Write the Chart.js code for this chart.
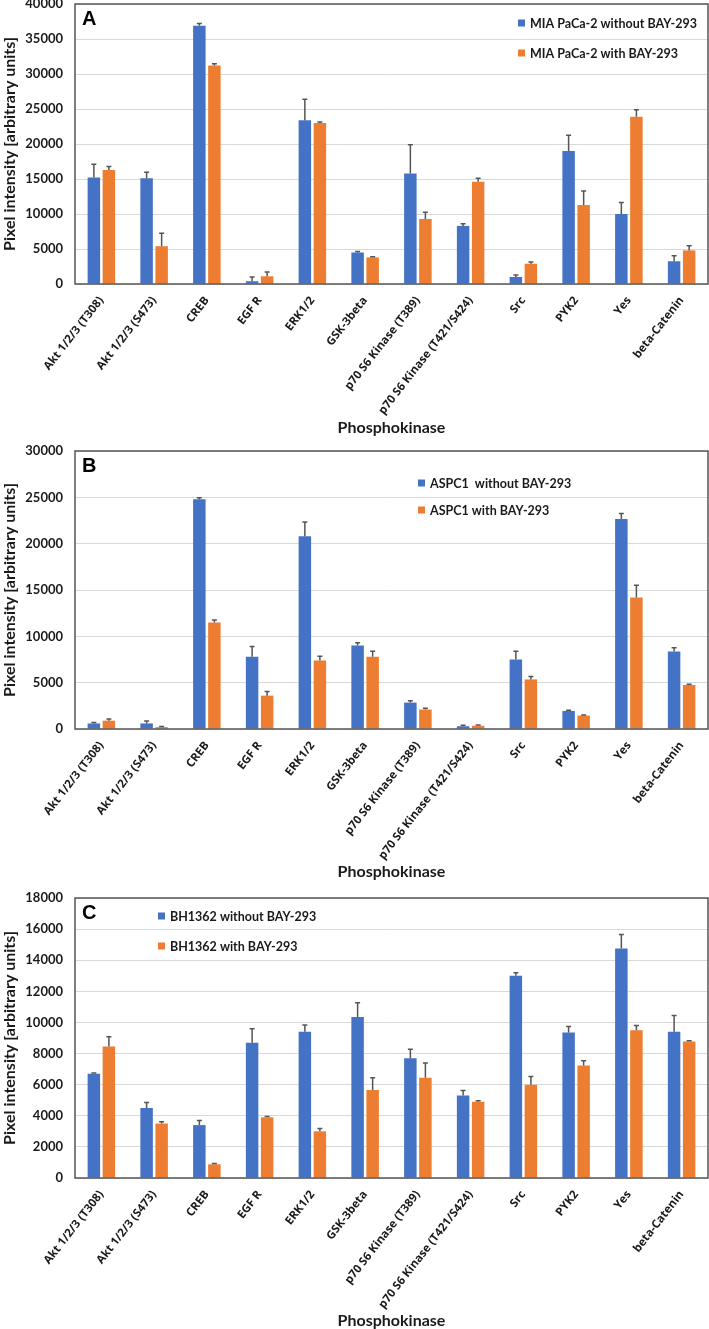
<!DOCTYPE html>
<html>
<head>
<meta charset="utf-8">
<script src="https://cdn.jsdelivr.net/npm/chart.js@4.4.1/dist/chart.umd.min.js"></script>
<style>
  body { margin: 0; background: #fff; width: 709px; height: 1329px; overflow: hidden; position: relative; }
  .panel { position: absolute; left: 0; width: 709px; }
</style>
</head>
<body>
<div class="panel" style="top:-16px;height:457px"><canvas id="chartA"></canvas></div>
<div class="panel" style="top:431px;height:454px"><canvas id="chartB"></canvas></div>
<div class="panel" style="top:878px;height:456px"><canvas id="chartC"></canvas></div>
<script>
// Shared categories
const categories = ['Akt 1/2/3 (T308)', 'Akt 1/2/3 (S473)', 'CREB', 'EGF R', 'ERK1/2', 'GSK-3beta',
    'p70 S6 Kinase (T389)', 'p70 S6 Kinase (T421/S424)', 'Src', 'PYK2', 'Yes', 'beta-Catenin'];

// Panel A - MIA PaCa-2
const miaWithout = [15200, 15100, 36900, 400, 23400, 4500, 15800, 8300, 1000, 19000, 10000, 3250];
const miaWithoutErr = [1900, 850, 300, 600, 3000, 150, 4100, 300, 300, 2250, 1650, 800];
const miaWith = [16300, 5400, 31200, 1100, 23000, 3800, 9300, 14600, 2900, 11300, 23900, 4800];
const miaWithErr = [470, 1850, 250, 600, 150, 100, 950, 500, 250, 2000, 1000, 650];

// Panel B - ASPC1
const aspcWithout = [600, 600, 24800, 7800, 20800, 9000, 2850, 300, 7500, 1950, 22650, 8350];
const aspcWithoutErr = [100, 250, 150, 1100, 1550, 300, 200, 100, 900, 70, 600, 430];
const aspcWith = [900, 200, 11500, 3600, 7400, 7800, 2100, 350, 5350, 1450, 14200, 4750];
const aspcWithErr = [180, 70, 250, 450, 450, 600, 150, 70, 320, 70, 1300, 70];

// Panel C - BH1362
const bhWithout = [6700, 4500, 3400, 8700, 9400, 10350, 7700, 5300, 13000, 9350, 14750, 9400];
const bhWithoutErr = [50, 350, 300, 900, 430, 920, 580, 320, 190, 390, 900, 1050];
const bhWith = [8450, 3500, 880, 3900, 3000, 5650, 6450, 4900, 6000, 7230, 9500, 8770];
const bhWithErr = [630, 120, 60, 60, 180, 800, 950, 60, 520, 300, 300, 50];

const BLUE = '#4472C4';
const ORANGE = '#ED7D31';
const TEXT = '#1a1a1a';

Chart.defaults.font.family = 'Lato';
Chart.defaults.font.weight = 'bold';
Chart.defaults.color = TEXT;

// error bars, frame, panel letter and legend
const panelDecor = {
    id: 'panelDecor',
    afterDatasetsDraw(chart, args, opts) {
        const ctx = chart.ctx;
        const yScale = chart.scales.y;
        ctx.save();
        ctx.strokeStyle = '#555';
        ctx.lineWidth = 1.5;
        chart.data.datasets.forEach((ds, i) => {
            const meta = chart.getDatasetMeta(i);
            meta.data.forEach((bar, j) => {
                const top = yScale.getPixelForValue(ds.data[j] + ds.errors[j]);
                ctx.beginPath();
                ctx.moveTo(bar.x, bar.y);
                ctx.lineTo(bar.x, top);
                ctx.moveTo(bar.x - 2.5, top);
                ctx.lineTo(bar.x + 2.5, top);
                ctx.stroke();
            });
        });
        ctx.restore();
    },
    afterDraw(chart, args, opts) {
        const ctx = chart.ctx;
        const a = chart.chartArea;
        ctx.save();
        // plot frame
        ctx.strokeStyle = '#555';
        ctx.lineWidth = 1.5;
        ctx.strokeRect(a.left, a.top, a.right - a.left, a.bottom - a.top);
        // panel letter
        ctx.fillStyle = '#000';
        ctx.font = 'bold 20px "Liberation Sans"';
        ctx.textBaseline = 'middle';
        ctx.fillText(opts.letter, a.left + 7, a.top + 15);
        // legend
        ctx.font = 'bold 12.5px Lato';
        chart.data.datasets.forEach((ds, i) => {
            const y = a.top + opts.legendY[i];
            ctx.fillStyle = ds.backgroundColor;
            ctx.fillRect(opts.legendX, y - 3.5, 7, 7);
            ctx.fillStyle = TEXT;
            ctx.fillText(ds.label, opts.legendX + 12, y + 0.5);
        });
        ctx.restore();
    }
};

function makeChart(id, cfg) {
    new Chart(document.getElementById(id).getContext('2d'), {
        type: 'bar',
        data: {
            labels: categories,
            datasets: [{
                label: cfg.labels[0],
                data: cfg.series[0],
                errors: cfg.errors[0],
                backgroundColor: BLUE,
                categoryPercentage: 0.57,
                barPercentage: 0.83
            }, {
                label: cfg.labels[1],
                data: cfg.series[1],
                errors: cfg.errors[1],
                backgroundColor: ORANGE,
                categoryPercentage: 0.57,
                barPercentage: 0.83
            }]
        },
        options: {
            responsive: true,
            maintainAspectRatio: false,
            animation: false,
            layout: { padding: { top: 20, right: 1, left: 0, bottom: 0 } },
            plugins: {
                legend: { display: false },
                tooltip: { enabled: false },
                panelDecor: { letter: cfg.letter, legendX: cfg.legendX, legendY: cfg.legendY }
            },
            scales: {
                x: {
                    grid: { display: false },
                    border: { display: false },
                    ticks: {
                        autoSkip: false,
                        minRotation: 52,
                        maxRotation: 52,
                        padding: 2,
                        font: { family: '"Open Sans"', size: 11.5, weight: 'bold' },
                        color: TEXT
                    },
                    title: {
                        display: true,
                        text: 'Phosphokinase',
                        font: { size: 16, weight: 'bold' },
                        color: TEXT,
                        padding: { top: 0, bottom: 4 }
                    },
                    afterFit(scale) { scale.height = cfg.xHeight; }
                },
                y: {
                    min: 0,
                    max: cfg.max,
                    grid: { color: '#d9d9d9', lineWidth: 1, drawTicks: false },
                    border: { display: false },
                    ticks: {
                        stepSize: cfg.step,
                        padding: 12,
                        font: { size: 13, weight: 'bold' },
                        color: TEXT,
                        callback: v => String(v)
                    },
                    title: {
                        display: true,
                        text: 'Pixel intensity [arbitrary units]',
                        font: { size: 16, weight: 'bold' },
                        color: TEXT,
                        padding: 0
                    },
                    afterFit(scale) { scale.width = 75; }
                }
            }
        },
        plugins: [panelDecor]
    });
}

makeChart('chartA', {
    letter: 'A', max: 40000, step: 5000, xHeight: 157,
    labels: ['MIA PaCa-2 without BAY-293', 'MIA PaCa-2 with BAY-293'],
    series: [miaWithout, miaWith], errors: [miaWithoutErr, miaWithErr],
    legendX: 518, legendY: [19, 49]
});
makeChart('chartB', {
    letter: 'B', max: 30000, step: 5000, xHeight: 156,
    labels: ['ASPC1  without BAY-293', 'ASPC1 with BAY-293'],
    series: [aspcWithout, aspcWith], errors: [aspcWithoutErr, aspcWithErr],
    legendX: 418, legendY: [32, 59]
});
makeChart('chartC', {
    letter: 'C', max: 18000, step: 2000, xHeight: 156,
    labels: ['BH1362 without BAY-293', 'BH1362 with BAY-293'],
    series: [bhWithout, bhWith], errors: [bhWithoutErr, bhWithErr],
    legendX: 158, legendY: [18, 48]
});
</script>
</body>
</html>
